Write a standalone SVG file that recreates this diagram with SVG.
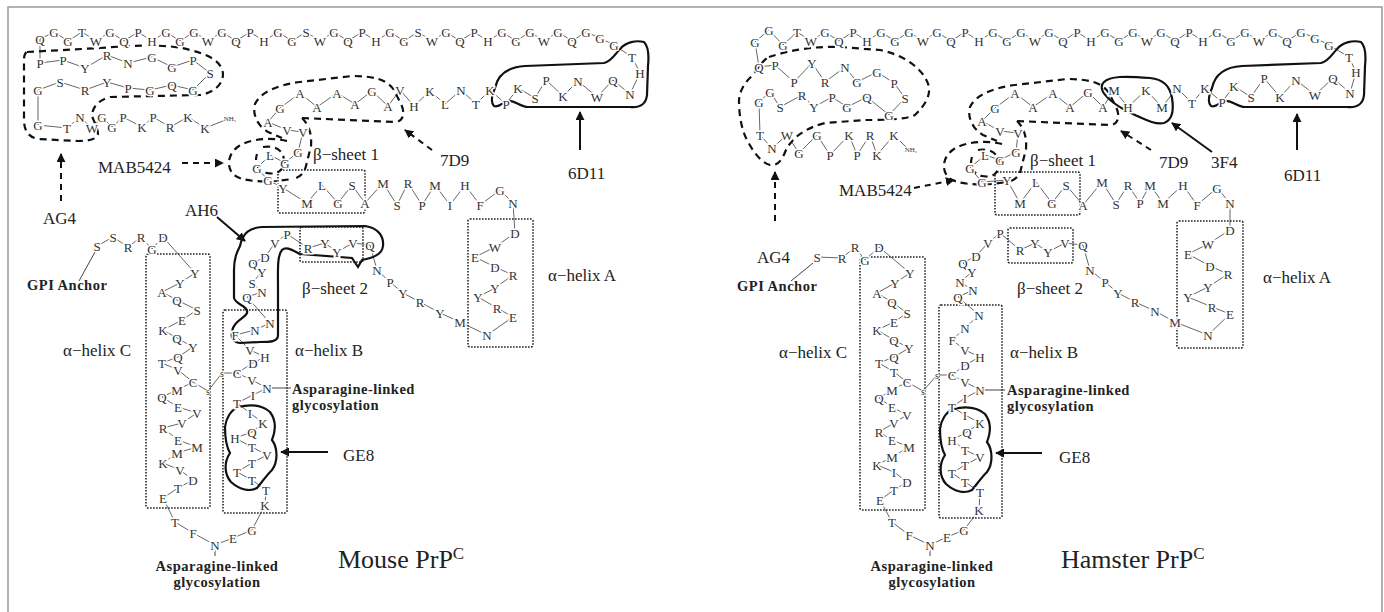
<svg xmlns="http://www.w3.org/2000/svg" xmlns:xlink="http://www.w3.org/1999/xlink" width="1384" height="612" viewBox="0 0 1384 612">
<style>
.r text{font-family:"Liberation Serif","Times New Roman",serif;font-size:13px;fill:#333;text-anchor:middle;dominant-baseline:central;stroke:#fff;stroke-width:3;paint-order:stroke}
.r text.sm{font-size:7px;stroke-width:1.5}
.r text.ss{font-size:10px;stroke-width:1.5}
.bb{fill:none;stroke:#555;stroke-width:0.9}
.box{fill:none;stroke:#222;stroke-width:1.6;stroke-dasharray:1.6 1.4}
.dash{fill:none;stroke:#111;stroke-width:2.2;stroke-dasharray:7 5}
.sol{fill:none;stroke:#111;stroke-width:2.2}
.lab{font-family:"Liberation Serif","Times New Roman",serif;font-size:17px;fill:#222}
.bold{font-family:"Liberation Serif","Times New Roman",serif;font-weight:bold;font-size:14.5px;fill:#222;letter-spacing:0.5px}
.ttl{font-family:"Liberation Serif","Times New Roman",serif;font-size:26px;fill:#222}
.arr{stroke:#111;stroke-width:2;fill:none;marker-end:url(#ah)}
.darr{stroke:#111;stroke-width:2;fill:none;stroke-dasharray:6 5;marker-end:url(#ah)}
.thin{stroke:#444;stroke-width:1;fill:none}
</style>
<defs>
<marker id="ah" viewBox="0 0 10 10" refX="9" refY="5" markerWidth="4.5" markerHeight="4.5" orient="auto"><path d="M0,0 L10,5 L0,10 z" fill="#111"/></marker>
<g id="epi7d9">
<path class="dash" d="M302,118 L396,122 C404,121 405,112 401,104 L394,90 C387,79 372,76 352,76 L300,82 C276,85 260,93 255,104 C252,115 258,126 268,132 L282,138"/>
<path class="dash" d="M302,118 C308,124 312,132 311,146 L306,166 C304,174 299,178 292,179"/>
<path class="dash" d="M287,141 C270,137 250,139 239,146 C228,153 226,166 233,174 C240,181 258,182 276,181 L293,179"/>
<path class="dash" d="M263,147 C276,145 284,151 284,161 C284,171 277,175 267,173 C258,171 254,163 257,154"/>
</g>
<path id="ge8" class="sol" d="M238,407 C250,404 262,405 270,412 C276,420 276,430 272,440 C278,448 278,462 272,470 C266,476 262,482 257,488 C250,492 240,490 231,482 C224,474 224,462 230,453 C226,446 225,436 225,427 C226,418 231,410 238,407 Z"/>
<path id="d6d11" class="sol" d="M495,88 C498,74 508,67 525,66 L604,63 C612,61 615,54 620,49 C626,42 636,40 644,42 C649,47 649,56 648,66 L647,95 C646,104 640,108 630,107 L528,107 C520,107 515,100 508,101 C502,102 500,108 494,106 C490,102 492,95 495,88 Z"/>
</defs>
<rect x="8" y="7" width="1374" height="620" fill="#fff" stroke="#999" stroke-width="1.5"/>

<g id="mouse">
<g id="mouse-connectors">
<polyline class="bb" points="228,119 205,128 188,117 170,127 153,117 142,127 123,117 112,127 102,117 92,128 80,117 67,128 38,125 38,90 60,82 85,90 107,82 128,88 150,90 172,85 193,90 210,73 193,60 172,67 152,57 128,63 107,55 85,68 63,60 40,63 40,39 54,32 68,41 82,32 96,41 110,32 124,41 138,32 152,41 166,32 180,41 194,32 208,41 222,32 236,41 250,32 264,41 278,32 292,41 306,32 320,41 334,32 348,41 362,32 376,41 390,32 404,41 418,32 432,41 446,32 460,41 474,32 488,41 502,32 516,41 530,32 544,41 558,32 572,41 586,32 600,38 614,45 632,57 640,73 630,94 613,80 597,97 578,81 563,96 546,80 535,98 518,88 506,104 490,90 476,104 461,90 445,104 430,91 414,106 400,90 388,106 372,91 355,104 337,93 317,107 300,93 280,108 268,122 287,130 303,132 298,152 285,163 270,155 257,168 268,180 283,188 307,203 322,185 338,203 352,185 365,203 383,183 397,205 408,183 422,205 435,185 450,205 465,185 480,205 500,190 513,203 515,233 495,247 475,257 495,267 513,275 495,288 478,297 497,308 513,317 487,335 460,322 440,313 420,302 403,293 390,282 377,270 370,245 353,243 337,252 325,243 308,248 287,234 275,243 265,257 253,263 262,272 252,283 262,292 247,297 270,323 255,330 235,335 250,350 265,357 253,363 237,373 252,380 267,388 253,395 237,403 250,413 263,423 252,432 235,438 252,447 267,455 252,463 237,472 252,480 266,490 265,505 252,530 233,538 215,545 193,533 175,522 163,498 178,488 193,480 180,470 163,463 177,453 197,447 178,440 163,428 182,423 197,413 178,407 162,397 177,390 193,382 178,370 162,363 178,357 193,347 177,338 163,330 182,320 197,310 177,300 162,292 180,283 195,273 163,237 152,249 141,237 128,247 113,237 97,246"/>
<polyline class="bb" points="193,382 208,391 222,373 237,373"/>
<line class="thin" x1="267" y1="388" x2="291" y2="388"/>
<line class="thin" x1="215" y1="545" x2="215" y2="556"/>
<line class="thin" x1="95" y1="252" x2="79" y2="281"/>
<path class="darr" d="M61,201 L61,154"/>
<path class="darr" d="M182,163 L223,163"/>
<path class="darr" d="M432,150 L405,130"/>
<path class="arr" d="M580,150 L580,112"/>
<path class="arr" d="M217,217 L245,241"/>
<path class="arr" d="M328,452 L281,452"/>
</g>
<g id="mouse-regions">
<rect class="box" x="278" y="170" width="87" height="43" rx="2"/>
<rect class="box" x="300" y="227" width="63" height="35" rx="2"/>
<rect class="box" x="468" y="219" width="65" height="128" rx="2"/>
<rect class="box" x="223" y="310" width="64" height="203" rx="2"/>
<rect class="box" x="146" y="254" width="64" height="254" rx="2"/>
<path class="dash" d="M27,52 L100,48 C140,45 170,44 190,50 C210,55 222,62 223,74 C223,85 213,93 200,95 L110,97 C98,100 92,108 92,116 C94,122 98,128 98,134 C97,139 90,141 78,141 L38,139 C28,137 24,130 24,120 L24,60 C24,55 25,53 27,52 Z"/>
<use xlink:href="#epi7d9"/>
<path class="sol" d="M240,246 C243,232 250,228 262,227 L365,226 C378,228 384,236 383,246 C382,255 372,258 362,260 L358,267 L352,258 L300,254 C292,250 286,246 282,250 C277,256 278,270 278,290 L278,335 C278,342 270,342 260,342 L240,343 C232,342 230,336 233,328 C236,320 245,318 247,313 C249,306 236,305 234,298 L234,270 C234,258 237,252 240,246 Z"/>
<use xlink:href="#ge8"/>
<use xlink:href="#d6d11"/>
</g>
<g id="mouse-residues" class="r">
<text class="sm" x="230" y="119">NH₂</text>
<text x="205" y="128">K</text><text x="188" y="117">K</text><text x="170" y="127">R</text><text x="153" y="117">P</text><text x="142" y="127">K</text><text x="123" y="117">P</text><text x="112" y="127">G</text><text x="102" y="117">G</text><text x="92" y="128">W</text><text x="80" y="117">N</text><text x="67" y="128">T</text><text x="38" y="125">G</text><text x="38" y="90">G</text><text x="60" y="82">S</text><text x="85" y="90">R</text><text x="107" y="82">Y</text><text x="128" y="88">P</text><text x="150" y="90">G</text><text x="172" y="85">Q</text><text x="193" y="90">G</text><text x="210" y="73">S</text><text x="193" y="60">P</text><text x="172" y="67">G</text><text x="152" y="57">G</text><text x="128" y="63">N</text><text x="107" y="55">R</text><text x="85" y="68">Y</text><text x="63" y="60">P</text><text x="40" y="63">P</text><text x="40" y="39">Q</text>
<text x="54" y="32">G</text><text x="68" y="41">G</text><text x="82" y="32">T</text><text x="96" y="41">W</text><text x="110" y="32">G</text><text x="124" y="41">Q</text><text x="138" y="32">P</text><text x="152" y="41">H</text><text x="166" y="32">G</text><text x="180" y="41">G</text><text x="194" y="32">G</text><text x="208" y="41">W</text><text x="222" y="32">G</text><text x="236" y="41">Q</text><text x="250" y="32">P</text><text x="264" y="41">H</text><text x="278" y="32">G</text><text x="292" y="41">G</text><text x="306" y="32">S</text><text x="320" y="41">W</text><text x="334" y="32">G</text><text x="348" y="41">Q</text><text x="362" y="32">P</text><text x="376" y="41">H</text><text x="390" y="32">G</text><text x="404" y="41">G</text><text x="418" y="32">S</text><text x="432" y="41">W</text><text x="446" y="32">G</text><text x="460" y="41">Q</text><text x="474" y="32">P</text><text x="488" y="41">H</text><text x="502" y="32">G</text><text x="516" y="41">G</text><text x="530" y="32">G</text><text x="544" y="41">W</text><text x="558" y="32">G</text><text x="572" y="41">Q</text><text x="586" y="32">G</text><text x="600" y="38">G</text><text x="614" y="45">G</text>
<text x="632" y="57">T</text><text x="640" y="73">H</text><text x="630" y="94">N</text><text x="613" y="80">Q</text><text x="597" y="97">W</text><text x="578" y="81">N</text><text x="563" y="96">K</text><text x="546" y="80">P</text><text x="535" y="98">S</text><text x="518" y="88">K</text><text x="506" y="104">P</text><text x="490" y="90">K</text><text x="476" y="104">T</text><text x="461" y="90">N</text><text x="445" y="104">L</text><text x="430" y="91">K</text><text x="414" y="106">H</text><text x="400" y="90">V</text><text x="388" y="106">A</text><text x="372" y="91">G</text><text x="355" y="104">A</text><text x="337" y="93">A</text><text x="317" y="107">A</text><text x="300" y="93">A</text><text x="280" y="108">G</text><text x="268" y="122">A</text><text x="287" y="130">V</text><text x="303" y="132">V</text><text x="298" y="152">G</text><text x="285" y="163">G</text><text x="270" y="155">L</text><text x="257" y="168">G</text><text x="268" y="180">G</text><text x="283" y="188">Y</text><text x="307" y="203">M</text><text x="322" y="185">L</text><text x="338" y="203">G</text><text x="352" y="185">S</text><text x="365" y="203">A</text><text x="383" y="183">M</text><text x="397" y="205">S</text><text x="408" y="183">R</text><text x="422" y="205">P</text><text x="435" y="185">M</text><text x="450" y="205">I</text><text x="465" y="185">H</text><text x="480" y="205">F</text><text x="500" y="190">G</text><text x="513" y="203">N</text>
<text x="515" y="233">D</text><text x="495" y="247">W</text><text x="475" y="257">E</text><text x="495" y="267">D</text><text x="513" y="275">R</text><text x="495" y="288">Y</text><text x="478" y="297">Y</text><text x="497" y="308">R</text><text x="513" y="317">E</text><text x="487" y="335">N</text><text x="460" y="322">M</text><text x="440" y="313">Y</text><text x="420" y="302">R</text><text x="403" y="293">Y</text><text x="390" y="282">P</text><text x="377" y="270">N</text><text x="370" y="245">Q</text><text x="353" y="243">V</text><text x="337" y="252">Y</text><text x="325" y="243">Y</text><text x="308" y="248">R</text><text x="287" y="234">P</text><text x="275" y="243">V</text><text x="265" y="257">D</text><text x="253" y="263">Q</text><text x="262" y="272">Y</text><text x="252" y="283">S</text><text x="262" y="292">N</text><text x="247" y="297">Q</text><text x="270" y="323">N</text><text x="255" y="330">N</text><text x="235" y="335">F</text><text x="250" y="350">V</text><text x="265" y="357">H</text><text x="253" y="363">D</text><text x="237" y="373">C</text><text x="252" y="380">V</text><text x="267" y="388">N</text><text x="253" y="395">I</text><text x="237" y="403">T</text><text x="250" y="413">I</text><text x="263" y="423">K</text><text x="252" y="432">Q</text><text x="235" y="438">H</text><text x="252" y="447">T</text><text x="267" y="455">V</text><text x="252" y="463">T</text><text x="237" y="472">T</text><text x="252" y="480">T</text><text x="266" y="490">T</text><text x="265" y="505">K</text><text x="252" y="530">G</text><text x="233" y="538">E</text><text x="215" y="545">N</text><text x="193" y="533">F</text><text x="175" y="522">T</text><text x="163" y="498">E</text><text x="178" y="488">T</text><text x="193" y="480">D</text><text x="180" y="470">V</text><text x="163" y="463">K</text><text x="177" y="453">M</text><text x="197" y="447">M</text><text x="178" y="440">E</text><text x="163" y="428">R</text><text x="182" y="423">V</text><text x="197" y="413">V</text><text x="178" y="407">E</text><text x="162" y="397">Q</text><text x="177" y="390">M</text><text x="193" y="382">C</text><text x="178" y="370">V</text><text x="162" y="363">T</text><text x="178" y="357">Q</text><text x="193" y="347">Y</text><text x="177" y="338">Q</text><text x="163" y="330">K</text><text x="182" y="320">E</text><text x="197" y="310">S</text><text x="177" y="300">Q</text><text x="162" y="292">A</text><text x="180" y="283">Y</text><text x="195" y="273">Y</text><text x="163" y="237">D</text><text x="152" y="249">G</text><text x="141" y="237">R</text><text x="128" y="247">R</text><text x="113" y="237">S</text><text x="97" y="246">S</text>
<text class="ss" x="208" y="391">s</text><text class="ss" x="222" y="373">s</text>
</g>
<g id="mouse-labels">
<text class="lab" x="98" y="173">MAB5424</text>
<text class="lab" x="43" y="224">AG4</text>
<text class="lab" x="185" y="216">AH6</text>
<text class="lab" x="440" y="166">7D9</text>
<text class="lab" x="568" y="179">6D11</text>
<text class="lab" x="313" y="160">β−sheet 1</text>
<text class="lab" x="302" y="294">β−sheet 2</text>
<text class="lab" x="548" y="281">α−helix A</text>
<text class="lab" x="295" y="356">α−helix B</text>
<text class="lab" x="63" y="356">α−helix C</text>
<text class="lab" x="343" y="461">GE8</text>
<text class="bold" x="27" y="290">GPI Anchor</text>
<text class="bold" x="292" y="394">Asparagine-linked</text>
<text class="bold" x="292" y="410">glycosylation</text>
<text class="bold" x="217" y="571" text-anchor="middle">Asparagine-linked</text>
<text class="bold" x="217" y="587" text-anchor="middle">glycosylation</text>
<text class="ttl" x="338" y="568">Mouse PrP<tspan font-size="17" dy="-9">C</tspan></text>
</g>
</g>

<g id="hamster">
<g id="hamster-connectors">
<polyline class="bb" points="909,150 894,135 877,155 870,135 857,155 849,135 830,155 817,135 799,153 787,135 772,148 760,135 759,102 770,92 780,107 802,95 814,107 832,97 847,107 867,97 889,115 905,98 894,83 877,72 857,82 845,67 825,82 812,63 794,82 775,65 759,67 755,42 769,30 783,45 797,32 811,41 825,32 839,41 853,32 867,41 881,32 895,41 909,32 923,41 937,32 951,41 965,32 979,41 993,32 1007,41 1021,32 1035,41 1049,32 1063,41 1077,32 1091,41 1105,32 1119,41 1133,32 1147,41 1161,32 1175,41 1189,32 1203,41 1217,32 1231,41 1245,32 1259,41 1273,32 1287,41 1301,32 1315,38 1329,45 1349,57 1356,72 1350,93 1333,78 1315,95 1296,80 1280,97 1264,78 1251,97 1234,86 1222,102 1205,88 1192,103 1177,88 1162,107 1146,90 1128,107 1114,90 1103,107 1088,92 1070,107 1053,93 1033,107 1015,93 995,108 982,121 1000,131 1018,133 1016,152 1000,160 985,155 970,168 982,182 1007,180 1020,203 1036,182 1052,203 1066,185 1083,205 1102,182 1116,204 1128,185 1140,203 1150,185 1163,203 1183,185 1197,205 1217,188 1230,203 1230,230 1208,244 1188,254 1210,266 1228,274 1208,287 1188,297 1212,307 1230,314 1208,335 1175,322 1155,311 1135,302 1118,293 1105,282 1090,270 1083,245 1065,243 1048,252 1035,243 1020,250 1000,233 988,243 976,256 963,263 972,272 960,282 973,290 958,297 979,315 965,328 952,340 965,350 980,357 965,365 952,375 965,382 980,390 965,398 952,407 965,415 980,423 967,432 952,440 965,450 980,457 965,465 952,473 965,482 980,492 979,510 964,530 947,537 930,545 909,535 892,522 880,500 894,490 907,482 894,472 877,465 892,457 909,447 892,440 879,432 894,423 907,415 892,407 879,398 892,390 907,382 894,372 879,363 894,357 909,348 894,340 877,330 894,322 907,313 892,302 877,293 895,283 910,273 879,247 865,260 855,247 842,258 817,257"/>
<polyline class="bb" points="907,382 923,391 937,375 952,375"/>
<line class="thin" x1="980" y1="390" x2="1005" y2="390"/>
<line class="thin" x1="930" y1="545" x2="930" y2="556"/>
<line class="thin" x1="813" y1="263" x2="791" y2="281"/>
<path class="darr" d="M775,221 L775,172"/>
<path class="darr" d="M914,188 L954,180"/>
<path class="darr" d="M1151,150 L1121,131"/>
<path class="arr" d="M1212,152 L1172,123"/>
<path class="arr" d="M1297,150 L1297,114"/>
<path class="arr" d="M1042,453 L996,453"/>
</g>
<g id="hamster-regions">
<rect class="box" x="995" y="172" width="85" height="43" rx="2"/>
<rect class="box" x="1008" y="228" width="65" height="35" rx="2"/>
<rect class="box" x="1177" y="221" width="66" height="127" rx="2"/>
<rect class="box" x="939" y="305" width="63" height="213" rx="2"/>
<rect class="box" x="860" y="257" width="65" height="253" rx="2"/>
<path class="dash" d="M769,57 C790,50 815,46 840,47 L880,50 C905,55 925,70 929,87 C930,97 925,105 915,115 C905,120 880,120 865,120 L825,123 C805,128 792,138 786,150 C782,160 778,166 770,165 C760,162 752,150 746,138 C740,125 739,110 739,100 C740,90 745,82 752,76 C758,68 763,60 769,57 Z"/>
<use xlink:href="#epi7d9" transform="translate(715,3)"/>
<path class="sol" d="M1104,82 C1110,76 1125,76 1150,78 C1162,79 1170,86 1172,98 C1174,110 1172,120 1164,123 C1156,125 1146,120 1135,115 C1122,109 1108,100 1103,92 C1101,88 1101,85 1104,82 Z"/>
<use xlink:href="#ge8" transform="translate(715,2)"/>
<use xlink:href="#d6d11" transform="translate(717,0)"/>
</g>
<g id="hamster-residues" class="r">
<text class="sm" x="911" y="150">NH₂</text>
<text x="894" y="135">K</text><text x="877" y="155">K</text><text x="870" y="135">R</text><text x="857" y="155">P</text><text x="849" y="135">K</text><text x="830" y="155">P</text><text x="817" y="135">G</text><text x="799" y="153">G</text><text x="787" y="135">W</text><text x="772" y="148">N</text><text x="760" y="135">T</text><text x="759" y="102">G</text><text x="770" y="92">G</text><text x="780" y="107">S</text><text x="802" y="95">R</text><text x="814" y="107">Y</text><text x="832" y="97">P</text><text x="847" y="107">G</text><text x="867" y="97">Q</text><text x="889" y="115">G</text><text x="905" y="98">S</text><text x="894" y="83">P</text><text x="877" y="72">G</text><text x="857" y="82">G</text><text x="845" y="67">N</text><text x="825" y="82">R</text><text x="812" y="63">Y</text><text x="794" y="82">P</text><text x="775" y="65">P</text><text x="759" y="67">Q</text><text x="755" y="42">G</text>
<text x="769" y="30">G</text><text x="783" y="45">G</text><text x="797" y="32">T</text><text x="811" y="41">W</text><text x="825" y="32">G</text><text x="839" y="41">Q</text><text x="853" y="32">P</text><text x="867" y="41">H</text><text x="881" y="32">G</text><text x="895" y="41">G</text><text x="909" y="32">G</text><text x="923" y="41">W</text><text x="937" y="32">G</text><text x="951" y="41">Q</text><text x="965" y="32">P</text><text x="979" y="41">H</text><text x="993" y="32">G</text><text x="1007" y="41">G</text><text x="1021" y="32">G</text><text x="1035" y="41">W</text><text x="1049" y="32">G</text><text x="1063" y="41">Q</text><text x="1077" y="32">P</text><text x="1091" y="41">H</text><text x="1105" y="32">G</text><text x="1119" y="41">G</text><text x="1133" y="32">G</text><text x="1147" y="41">W</text><text x="1161" y="32">G</text><text x="1175" y="41">Q</text><text x="1189" y="32">P</text><text x="1203" y="41">H</text><text x="1217" y="32">G</text><text x="1231" y="41">G</text><text x="1245" y="32">G</text><text x="1259" y="41">W</text><text x="1273" y="32">G</text><text x="1287" y="41">Q</text><text x="1301" y="32">G</text><text x="1315" y="38">G</text><text x="1329" y="45">G</text>
<text x="1349" y="57">T</text><text x="1356" y="72">H</text><text x="1350" y="93">N</text><text x="1333" y="78">Q</text><text x="1315" y="95">W</text><text x="1296" y="80">N</text><text x="1280" y="97">K</text><text x="1264" y="78">P</text><text x="1251" y="97">S</text><text x="1234" y="86">K</text><text x="1222" y="102">P</text><text x="1205" y="88">K</text><text x="1192" y="103">T</text><text x="1177" y="88">N</text><text x="1162" y="107">M</text><text x="1146" y="90">K</text><text x="1128" y="107">H</text><text x="1114" y="90">M</text><text x="1103" y="107">A</text><text x="1088" y="92">G</text><text x="1070" y="107">A</text><text x="1053" y="93">A</text><text x="1033" y="107">A</text><text x="1015" y="93">A</text><text x="995" y="108">G</text><text x="982" y="121">A</text><text x="1000" y="131">V</text><text x="1018" y="133">V</text><text x="1016" y="152">G</text><text x="1000" y="160">G</text><text x="985" y="155">L</text><text x="970" y="168">G</text><text x="982" y="182">G</text><text x="1007" y="180">Y</text><text x="1020" y="203">M</text><text x="1036" y="182">L</text><text x="1052" y="203">G</text><text x="1066" y="185">S</text><text x="1083" y="205">A</text><text x="1102" y="182">M</text><text x="1116" y="204">S</text><text x="1128" y="185">R</text><text x="1140" y="203">P</text><text x="1150" y="185">M</text><text x="1163" y="203">M</text><text x="1183" y="185">H</text><text x="1197" y="205">F</text><text x="1217" y="188">G</text><text x="1230" y="203">N</text>
<text x="1230" y="230">D</text><text x="1208" y="244">W</text><text x="1188" y="254">E</text><text x="1210" y="266">D</text><text x="1228" y="274">R</text><text x="1208" y="287">Y</text><text x="1188" y="297">Y</text><text x="1212" y="307">R</text><text x="1230" y="314">E</text><text x="1208" y="335">N</text><text x="1175" y="322">M</text><text x="1155" y="311">N</text><text x="1135" y="302">R</text><text x="1118" y="293">Y</text><text x="1105" y="282">P</text><text x="1090" y="270">N</text><text x="1083" y="245">Q</text><text x="1065" y="243">V</text><text x="1048" y="252">Y</text><text x="1035" y="243">Y</text><text x="1020" y="250">R</text><text x="1000" y="233">P</text><text x="988" y="243">V</text><text x="976" y="256">D</text><text x="963" y="263">Q</text><text x="972" y="272">Y</text><text x="960" y="282">N</text><text x="973" y="290">N</text><text x="958" y="297">Q</text><text x="979" y="315">N</text><text x="965" y="328">N</text><text x="952" y="340">F</text><text x="965" y="350">V</text><text x="980" y="357">H</text><text x="965" y="365">D</text><text x="952" y="375">C</text><text x="965" y="382">V</text><text x="980" y="390">N</text><text x="965" y="398">I</text><text x="952" y="407">T</text><text x="965" y="415">I</text><text x="980" y="423">K</text><text x="967" y="432">Q</text><text x="952" y="440">H</text><text x="965" y="450">T</text><text x="980" y="457">V</text><text x="965" y="465">T</text><text x="952" y="473">T</text><text x="965" y="482">T</text><text x="980" y="492">T</text><text x="979" y="510">K</text><text x="964" y="530">G</text><text x="947" y="537">E</text><text x="930" y="545">N</text><text x="909" y="535">F</text><text x="892" y="522">T</text><text x="880" y="500">E</text><text x="894" y="490">T</text><text x="907" y="482">D</text><text x="894" y="472">I</text><text x="877" y="465">K</text><text x="892" y="457">M</text><text x="909" y="447">M</text><text x="892" y="440">E</text><text x="879" y="432">R</text><text x="894" y="423">V</text><text x="907" y="415">V</text><text x="892" y="407">E</text><text x="879" y="398">Q</text><text x="892" y="390">M</text><text x="907" y="382">C</text><text x="894" y="372">T</text><text x="879" y="363">T</text><text x="894" y="357">Q</text><text x="909" y="348">Y</text><text x="894" y="340">Q</text><text x="877" y="330">K</text><text x="894" y="322">E</text><text x="907" y="313">S</text><text x="892" y="302">Q</text><text x="877" y="293">A</text><text x="895" y="283">Y</text><text x="910" y="273">Y</text><text x="879" y="247">D</text><text x="865" y="260">G</text><text x="855" y="247">R</text><text x="842" y="258">R</text><text x="817" y="257">S</text>
<text class="ss" x="923" y="391">s</text><text class="ss" x="937" y="375">s</text>
</g>
<g id="hamster-labels">
<text class="lab" x="839" y="196">MAB5424</text>
<text class="lab" x="757" y="263">AG4</text>
<text class="lab" x="1159" y="168">7D9</text>
<text class="lab" x="1211" y="168">3F4</text>
<text class="lab" x="1284" y="181">6D11</text>
<text class="lab" x="1030" y="166">β−sheet 1</text>
<text class="lab" x="1017" y="294">β−sheet 2</text>
<text class="lab" x="1263" y="283">α−helix A</text>
<text class="lab" x="1010" y="358">α−helix B</text>
<text class="lab" x="779" y="358">α−helix C</text>
<text class="lab" x="1059" y="463">GE8</text>
<text class="bold" x="737" y="291">GPI Anchor</text>
<text class="bold" x="1007" y="395">Asparagine-linked</text>
<text class="bold" x="1007" y="411">glycosylation</text>
<text class="bold" x="932" y="571" text-anchor="middle">Asparagine-linked</text>
<text class="bold" x="932" y="587" text-anchor="middle">glycosylation</text>
<text class="ttl" x="1061" y="568">Hamster PrP<tspan font-size="17" dy="-9">C</tspan></text>
</g>
</g>
</svg>
